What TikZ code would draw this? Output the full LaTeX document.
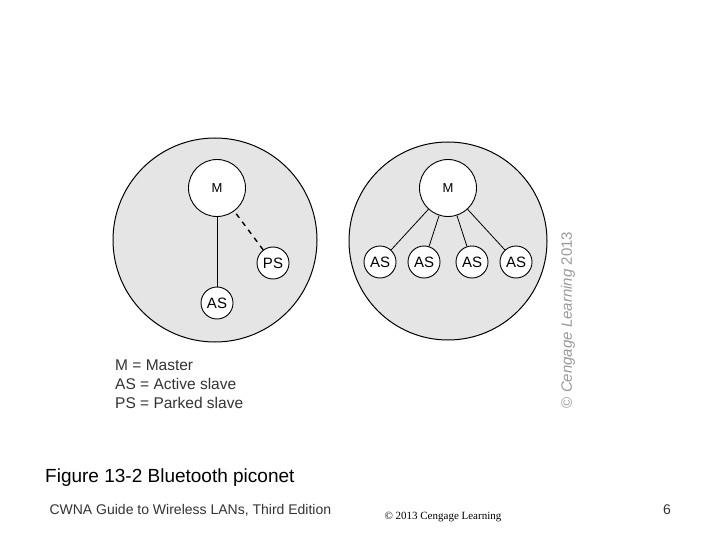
\documentclass[tikz,border=0pt]{standalone}
\usepackage{fontspec}
\setmainfont{Liberation Sans}
\newfontfamily\seriffont{Liberation Serif}
\begin{document}
\begin{tikzpicture}[x=1pt,y=-1pt,
  net/.style={circle,draw=black,line width=1pt,fill=black!10,minimum size=#1,inner sep=0pt},
  big/.style={circle,draw=black,line width=0.9pt,fill=white,minimum size=57pt,inner sep=0pt,font=\fontsize{13}{13}\selectfont},
  small/.style={circle,draw=black,line width=0.9pt,fill=white,minimum size=32pt,inner sep=0pt,font=\fontsize{15}{15}\selectfont},
  link/.style={line width=0.8pt},
  legend/.style={anchor=west,font=\fontsize{15.5}{15.5}\selectfont,text=black!80,inner sep=0pt}]
\useasboundingbox (0,0) rectangle (720,540);
\node[net=204pt] (c1) at (215,240) {};
\node[net=198pt] (c2) at (448,241) {};
% left piconet
\node[big] (m1) at (217,188) {M};
\node[small] (ps) at (273,263) {PS};
\node[small] (as1) at (217,303) {AS};
\draw[link] (m1) -- (as1);
\draw[line width=1.4pt,dash pattern=on 5pt off 5pt] (ps) -- (m1);
% right piconet
\node[big] (m2) at (448,188) {M};
\node[small] (a1) at (380,262) {AS};
\node[small] (a2) at (424,262) {AS};
\node[small] (a3) at (472,262) {AS};
\node[small] (a4) at (516,262) {AS};
\foreach \n in {a1,a2,a3,a4} \draw[link] (m2) -- (\n);
% legend
\node[legend] (l1) at (115,365) {M = Master};
\node[legend] (l2) at (115,384) {AS = Active slave};
\node[legend] (l3) at (115,403) {PS = Parked slave};
% copyright vertical
\node[rotate=90,text=black!40,font=\fontsize{15}{15}\selectfont] (cp) at (568,320) {© \textit{Cengage Learning} 2013};
% caption and footer
\node[anchor=west,font=\fontsize{19}{19}\selectfont,inner sep=0pt] (cap) at (45,478) {Figure 13-2 Bluetooth piconet};
\node[anchor=west,font=\fontsize{14}{14}\selectfont,text=black!80] (ft) at (46,510) {CWNA Guide to Wireless LANs, Third Edition};
\node[anchor=west,font=\seriffont\fontsize{11}{11}\selectfont] (cr) at (381,517) {© 2013 Cengage Learning};
\node[font=\fontsize{14}{14}\selectfont,text=black!80] (pg) at (667,510) {6};
\end{tikzpicture}
\end{document}
